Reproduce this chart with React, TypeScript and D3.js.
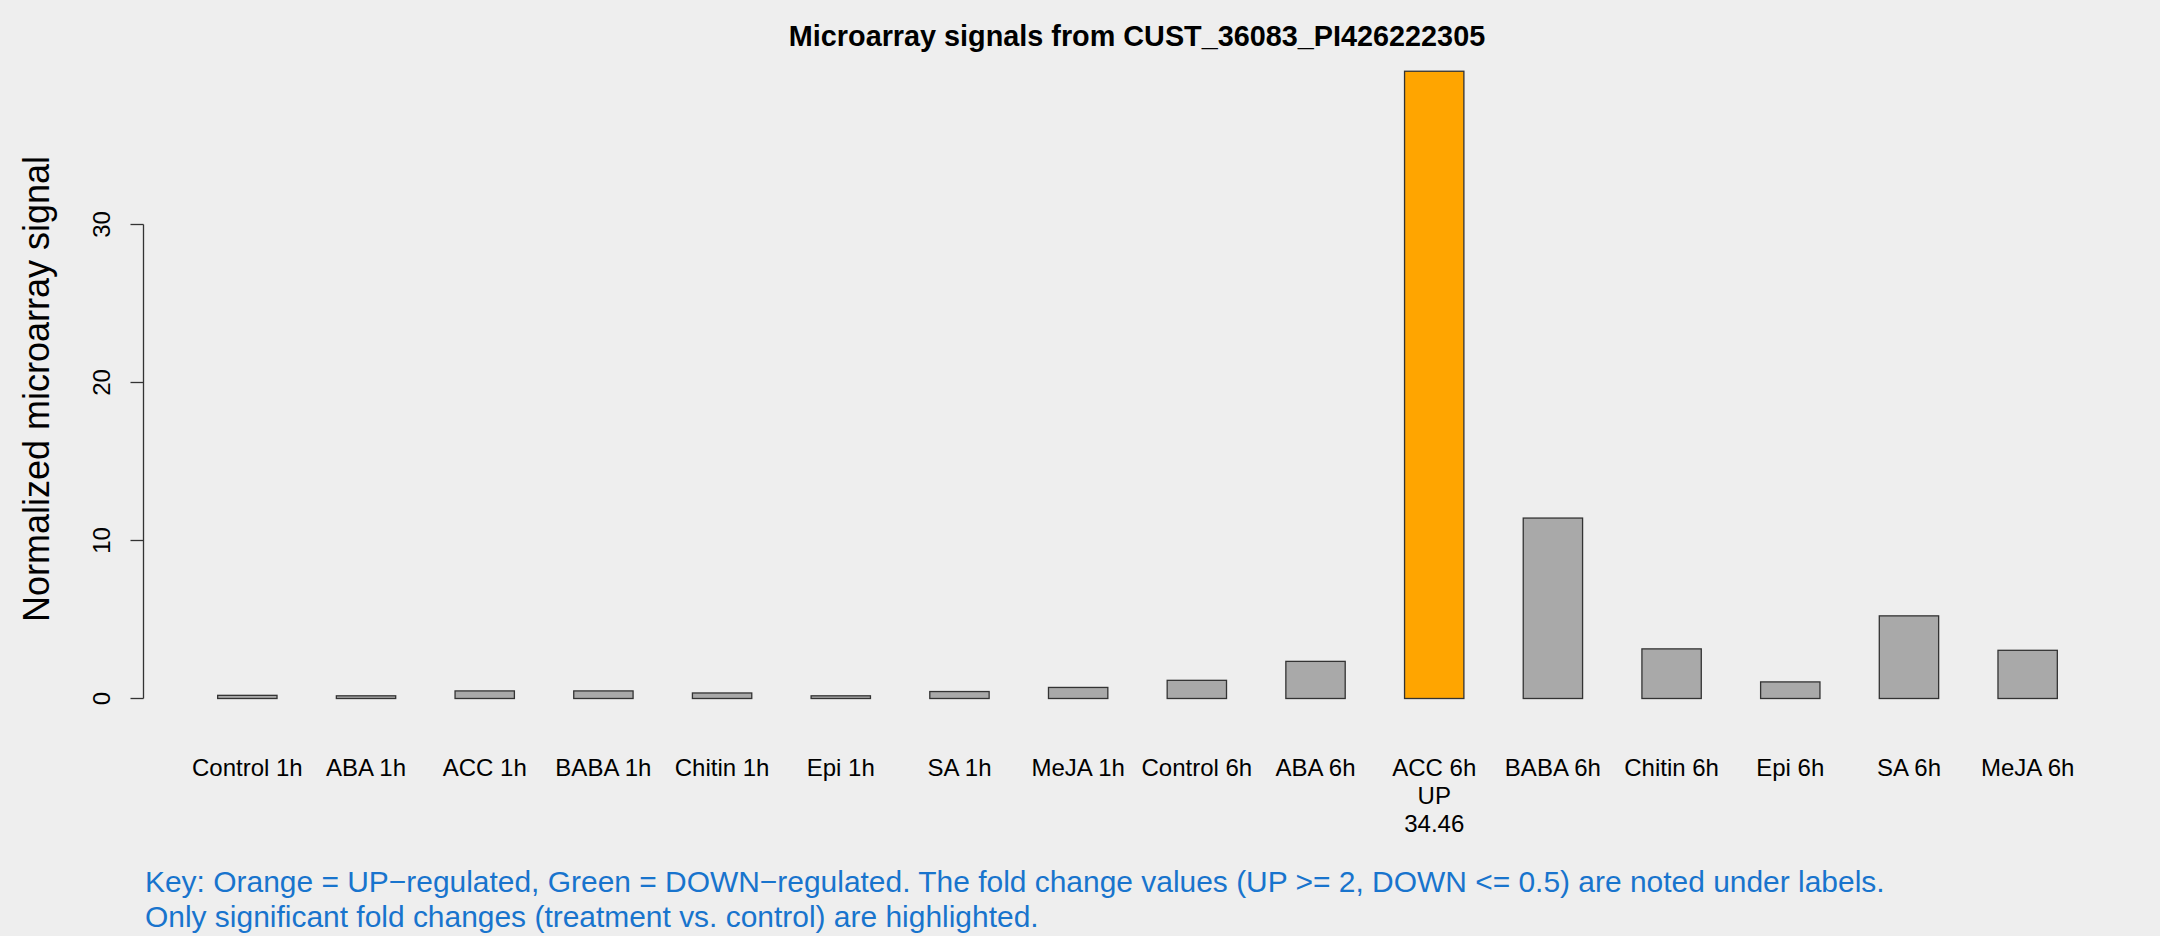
import * as d3 from "d3";
import { useEffect, useRef } from "react";

const categories = [
    "Control 1h", "ABA 1h", "ACC 1h", "BABA 1h", "Chitin 1h", "Epi 1h", "SA 1h", "MeJA 1h",
    "Control 6h", "ABA 6h", "ACC 6h", "BABA 6h", "Chitin 6h", "Epi 6h", "SA 6h", "MeJA 6h",
];
const signals = [0.2, 0.17, 0.48, 0.48, 0.35, 0.17, 0.44, 0.7, 1.15, 2.35, 39.7, 11.42, 3.14, 1.05, 5.23, 3.05];
// "UP" / "DOWN" / "" per sample, with fold change shown under the label
const regulation = ["", "", "", "", "", "", "", "", "", "", "UP", "", "", "", "", ""];
const foldChanges: (number | null)[] = [null, null, null, null, null, null, null, null, null, null, 34.46, null, null, null, null, null];
const yTicks = [0, 10, 20, 30];

const title = "Microarray signals from CUST_36083_PI426222305";
const yLabel = "Normalized microarray signal";
const keyLines = [
    "Key: Orange = UP\u2212regulated, Green = DOWN\u2212regulated. The fold change values (UP >= 2, DOWN <= 0.5) are noted under labels.",
    "Only significant fold changes (treatment vs. control) are highlighted.",
];

const W = 2160, H = 936;
const FONT = "'Liberation Sans', Arial, Helvetica, sans-serif";

const App = () => {
    const ref = useRef<SVGSVGElement | null>(null);

    useEffect(() => {
        if (!ref.current) return;
        const svg = d3.select(ref.current);
        svg.selectAll("*").remove();

        svg.append("rect").attr("width", W).attr("height", H).attr("fill", "#eeeeee");

        // scales
        const x = d3.scaleBand<string>()
            .domain(categories)
            .range([188, 2087])
            .paddingInner(0.5)
            .paddingOuter(0.25);

        const y = d3.scaleLinear().domain([0, 30]).range([698.5, 224.5]);

        // title
        svg.append("text")
            .attr("x", 1137)
            .attr("y", 46)
            .attr("text-anchor", "middle")
            .style("font-family", FONT)
            .style("font-size", "28.8px")
            .style("font-weight", "bold")
            .text(title);

        // y axis
        const axisX = 143.5;
        const yAxis = svg.append("g");
        yAxis.append("line")
            .attr("x1", axisX).attr("x2", axisX)
            .attr("y1", y(0)).attr("y2", y(30))
            .attr("stroke", "#333").attr("stroke-width", 1.3);
        yAxis.selectAll(".tick")
            .data(yTicks)
            .join("line")
            .attr("class", "tick")
            .attr("x1", axisX - 13).attr("x2", axisX)
            .attr("y1", d => y(d)).attr("y2", d => y(d))
            .attr("stroke", "#333").attr("stroke-width", 1.3);
        yAxis.selectAll(".tlabel")
            .data(yTicks)
            .join("text")
            .attr("class", "tlabel")
            .attr("transform", d => `translate(109.5,${y(d)}) rotate(-90)`)
            .attr("text-anchor", "middle")
            .style("font-family", FONT)
            .style("font-size", "24px")
            .text(d => d);

        svg.append("text")
            .attr("transform", `translate(49,389) rotate(-90)`)
            .attr("text-anchor", "middle")
            .style("font-family", FONT)
            .style("font-size", "36px")
            .text(yLabel);

        // bars
        svg.selectAll(".bar")
            .data(categories)
            .join("rect")
            .attr("class", "bar")
            .attr("x", d => x(d)!)
            .attr("y", (_, i) => y(signals[i]))
            .attr("width", x.bandwidth())
            .attr("height", (_, i) => y(0) - y(signals[i]))
            .attr("fill", (_, i) => regulation[i] === "UP" ? "#FFA500" : regulation[i] === "DOWN" ? "#32CD32" : "#A9A9A9")
            .attr("stroke", "#333")
            .attr("stroke-width", 1.3);

        // category labels, with regulation and fold change underneath
        const labels = svg.selectAll(".xlabel")
            .data(categories)
            .join("text")
            .attr("class", "xlabel")
            .attr("text-anchor", "middle")
            .style("font-family", FONT)
            .style("font-size", "24px");
        labels.each(function (d, i) {
            const t = d3.select(this);
            const cx = x(d)! + x.bandwidth() / 2;
            const lines = [d];
            if (regulation[i]) lines.push(regulation[i]);
            if (foldChanges[i] != null) lines.push(String(foldChanges[i]));
            lines.forEach((l, k) => {
                t.append("tspan").attr("x", cx).attr("y", 775.5 + k * 28).text(l);
            });
        });

        // key text
        svg.selectAll(".key")
            .data(keyLines)
            .join("text")
            .attr("class", "key")
            .attr("x", 145)
            .attr("y", (_, i) => 892 + i * 35)
            .style("font-family", FONT)
            .style("font-size", "29.95px")
            .style("fill", "#1874CD")
            .text(d => d);
    }, []);

    return <svg width={W} height={H} ref={ref} style={{ position: "absolute", left: 0, top: 0 }} />;
};

export default App;
